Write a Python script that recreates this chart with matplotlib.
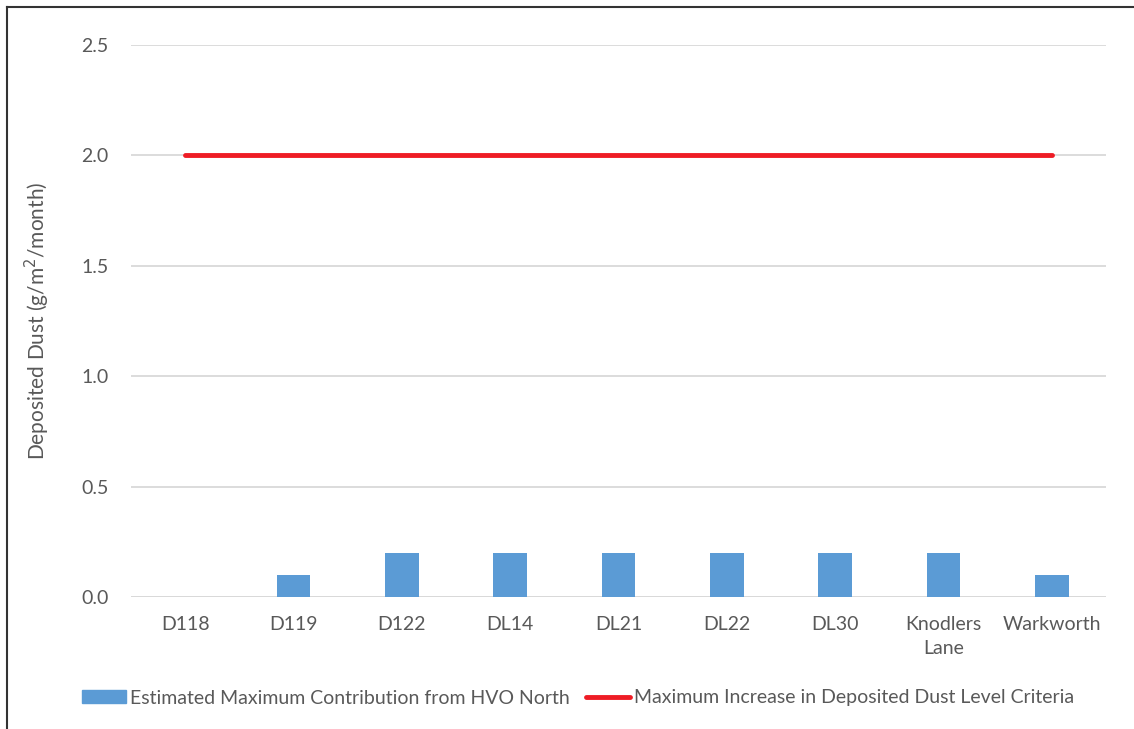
import numpy as np
import matplotlib
matplotlib.use('Agg')
from matplotlib import pyplot as plt
from matplotlib.lines import Line2D
from matplotlib.patches import Patch

plt.rcParams['font.family'] = ['Lato', 'DejaVu Sans']

sites = ['D118', 'D119', 'D122', 'DL14', 'DL21', 'DL22', 'DL30', 'Knodlers\nLane', 'Warkworth']
contribution = [0.0, 0.1, 0.2, 0.2, 0.2, 0.2, 0.2, 0.2, 0.1]
criteria = [2.0] * len(sites)

grey = '#595959'
fig = plt.figure(figsize=(11.34, 7.29), dpi=100)
ax = fig.add_axes([131 / 1134, 1 - 597 / 729, 975 / 1134, (597 - 45) / 729])

x = np.arange(len(sites))
ax.set_axisbelow(True)
ax.yaxis.grid(True, color='#d9d9d9', lw=1.3)
ax.bar(x, contribution, width=0.31, color='#5b9bd5', zorder=2)
ax.plot(x, criteria, color='#ee1c25', lw=3.5, solid_capstyle='round', zorder=3)

ax.set_xlim(-0.5, len(sites) - 0.5)
ax.set_ylim(0, 2.5)
ax.set_yticks(np.arange(0, 2.51, 0.5))
ax.yaxis.set_major_formatter(matplotlib.ticker.FormatStrFormatter('%.1f'))
ax.set_xticks(x, sites)
for lbl in ax.get_xticklabels():
    lbl.set_linespacing(1.5)
for s in ax.spines.values():
    s.set_visible(False)
ax.axhline(0, color='#d9d9d9', lw=1.3, zorder=1)
ax.tick_params(length=0, labelsize=14, labelcolor=grey)
ax.tick_params(axis='y', pad=16)
ax.tick_params(axis='x', pad=14)
ax.set_ylabel('Deposited Dust (g/m$^2$/month)', fontsize=15, color=grey, labelpad=21)

handles = [Patch(color='#5b9bd5'),
           Line2D([], [], color='#ee1c25', lw=3.5, solid_capstyle='round')]
labels = ['Estimated Maximum Contribution from HVO North',
          'Maximum Increase in Deposited Dust Level Criteria']
fig.legend(handles, labels, loc='center', bbox_to_anchor=(578 / 1134, 1 - 698 / 729),
           ncol=2, frameon=False, fontsize=14, labelcolor=grey,
           handlelength=2.3, handleheight=0.6, handletextpad=0.2, columnspacing=0.8)

# outer frame (left and top edge visible in the source)
fig.add_artist(Line2D([7 / 1134, 7 / 1134], [0, 1 - 7 / 729], color='#333333', lw=1.5,
                      transform=fig.transFigure))
fig.add_artist(Line2D([7 / 1134, 1], [1 - 7 / 729, 1 - 7 / 729], color='#333333', lw=1.5,
                      transform=fig.transFigure))

fig.savefig('out.png', dpi=100)
